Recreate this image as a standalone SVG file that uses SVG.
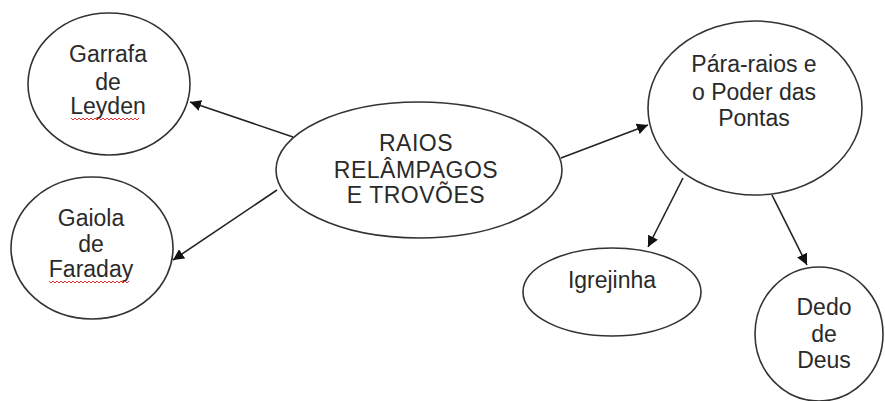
<svg xmlns="http://www.w3.org/2000/svg" width="885" height="401" viewBox="0 0 885 401">
<style>
.n{fill:#fff;stroke:#333;stroke-width:1.6}
.t{font-family:"Liberation Sans",Arial,sans-serif;font-size:23px;fill:#2a2a2a;text-anchor:middle}
.c{stroke:#222;stroke-width:1.6;fill:none}
.sq{stroke:#e03030;stroke-width:1;fill:none}
</style>
<defs>
<marker id="ah" viewBox="0 0 10 10" refX="10" refY="5" markerWidth="11" markerHeight="11" markerUnits="userSpaceOnUse" orient="auto">
<path d="M0,0 L10,5 L0,10 z" fill="#111"/>
</marker>
</defs>
<rect width="885" height="401" fill="#fff"/>
<g id="connectors">
<line class="c" x1="293" y1="137" x2="190" y2="102" marker-end="url(#ah)"/>
<line class="c" x1="277" y1="190" x2="173" y2="260" marker-end="url(#ah)"/>
<line class="c" x1="561" y1="158" x2="648" y2="125" marker-end="url(#ah)"/>
<line class="c" x1="683" y1="178" x2="648" y2="247" marker-end="url(#ah)"/>
<line class="c" x1="772" y1="195" x2="807" y2="265" marker-end="url(#ah)"/>
</g>
<g id="garrafa">
<ellipse class="n" cx="109" cy="84" rx="81" ry="71"/>
<text class="t" x="108" y="62">Garrafa</text>
<text class="t" x="108" y="90">de</text>
<text class="t" x="108" y="114">Leyden</text>
<path class="sq" d="M71,118 l2,2 l2,-2 l2,2 l2,-2 l2,2 l2,-2 l2,2 l2,-2 l2,2 l2,-2 l2,2 l2,-2 l2,2 l2,-2 l2,2 l2,-2 l2,2 l2,-2 l2,2 l2,-2 l2,2 l2,-2 l2,2 l2,-2 l2,2 l2,-2 l2,2 l2,-2 l2,2 l2,-2 l2,2 l2,-2 l2,2 l2,-2"/>
</g>
<g id="gaiola">
<ellipse class="n" cx="92" cy="248" rx="81" ry="71"/>
<text class="t" x="91" y="226">Gaiola</text>
<text class="t" x="91" y="252">de</text>
<text class="t" x="91" y="277">Faraday</text>
<path class="sq" d="M49,281 l2,2 l2,-2 l2,2 l2,-2 l2,2 l2,-2 l2,2 l2,-2 l2,2 l2,-2 l2,2 l2,-2 l2,2 l2,-2 l2,2 l2,-2 l2,2 l2,-2 l2,2 l2,-2 l2,2 l2,-2 l2,2 l2,-2 l2,2 l2,-2 l2,2 l2,-2 l2,2 l2,-2 l2,2 l2,-2 l2,2 l2,-2 l2,2 l2,-2 l2,2 l2,-2 l2,2 l2,-2"/>
</g>
<g id="raios">
<ellipse class="n" cx="419" cy="170" rx="143" ry="68"/>
<text class="t" x="416" y="151" style="letter-spacing:0.5px">RAIOS</text>
<text class="t" x="416" y="178" style="letter-spacing:0.5px">RELÂMPAGOS</text>
<text class="t" x="416" y="203" style="letter-spacing:0.5px">E TROVÕES</text>
</g>
<g id="pararaios">
<ellipse class="n" cx="755" cy="108" rx="107" ry="87"/>
<text class="t" x="754" y="72">Pára-raios e</text>
<text class="t" x="754" y="100">o Poder das</text>
<text class="t" x="754" y="126">Pontas</text>
</g>
<g id="igrejinha">
<ellipse class="n" cx="612" cy="292" rx="89" ry="44"/>
<text class="t" x="612" y="288">Igrejinha</text>
</g>
<g id="dedo">
<ellipse class="n" cx="819" cy="334" rx="64" ry="67"/>
<text class="t" x="824" y="315">Dedo</text>
<text class="t" x="824" y="342">de</text>
<text class="t" x="824" y="368">Deus</text>
</g>
</svg>
